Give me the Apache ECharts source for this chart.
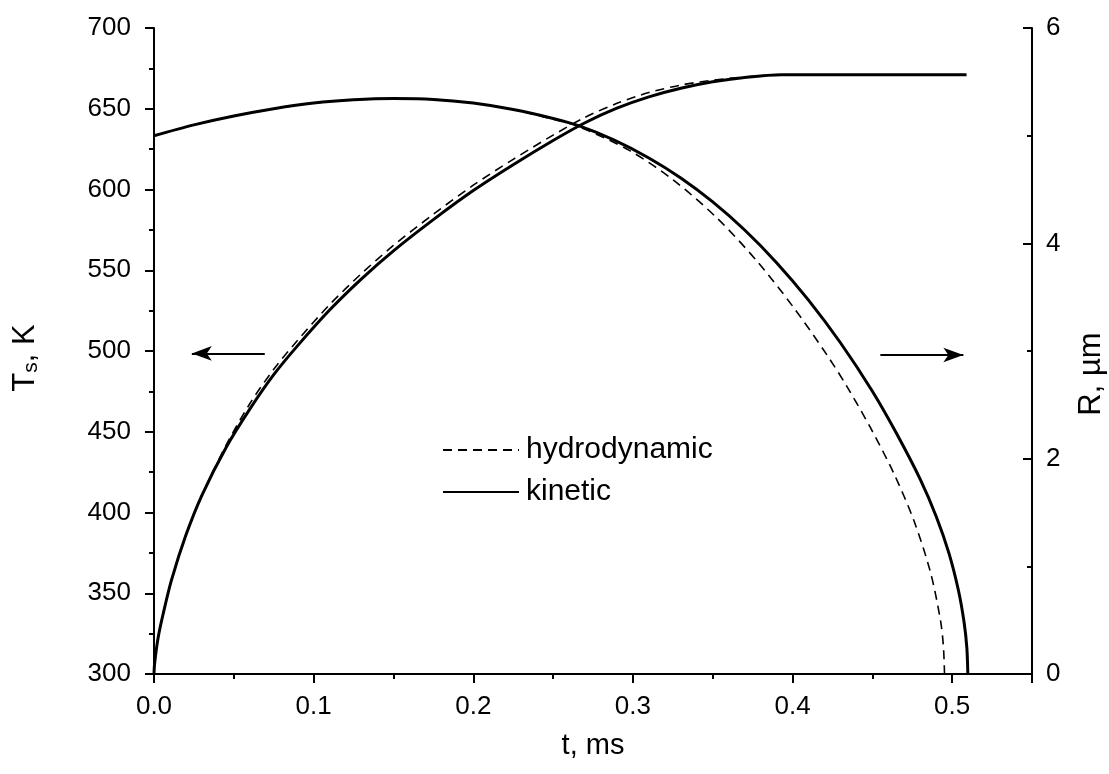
<!DOCTYPE html>
<html>
<head>
<meta charset="utf-8">
<script src="https://cdn.jsdelivr.net/npm/echarts@6/dist/echarts.min.js"></script>
<style>
html,body{margin:0;padding:0;background:#fff;}
#chart{width:1109px;height:774px;}
</style>
</head>
<body>
<div id="chart"></div>
<script>
// ---- data ----
// Surface temperature T_s (K), kinetic model
const tTkin = [0, 0.025, 0.05, 0.075, 0.1, 0.125, 0.15, 0.175, 0.2, 0.225, 0.25, 0.266, 0.288, 0.31, 0.33, 0.35, 0.37, 0.39, 0.41, 0.43, 0.45, 0.465, 0.48, 0.49, 0.498, 0.504, 0.5075, 0.5092, 0.5098];
const TKin  = [633.3, 640, 645.5, 650, 653.5, 655.5, 656.3, 655.8, 653.5, 649.5, 644, 639.5, 630.7, 619.5, 607.1, 592.3, 574.9, 554.7, 531.5, 505.1, 475.1, 449.2, 420.5, 397.5, 374.7, 351.4, 331.7, 316, 300];
// Surface temperature T_s (K), hydrodynamic model
const tThyd = [0, 0.025, 0.05, 0.075, 0.1, 0.125, 0.15, 0.175, 0.2, 0.225, 0.25, 0.266, 0.2983, 0.3254, 0.3526, 0.3777, 0.4007, 0.4216, 0.4342, 0.4488, 0.4634, 0.4759, 0.4864, 0.4927, 0.4945, 0.4952];
const THyd  = [633.3, 640, 645.5, 650, 653.5, 655.5, 656.3, 655.8, 653.5, 649.5, 643.5, 639, 623.9, 605.8, 582.4, 555.7, 526.9, 497.5, 477.8, 452.5, 424.3, 395.3, 363, 333, 317.2, 300];
// Droplet radius R (um), kinetic model
const tRkin = [0, 0.0004, 0.0025, 0.0056, 0.0109, 0.02, 0.03, 0.045, 0.06, 0.075, 0.09, 0.11, 0.13, 0.15, 0.175, 0.2, 0.225, 0.25, 0.27, 0.29, 0.31, 0.33, 0.35, 0.37, 0.393, 0.509];
const RKin  = [0, 0.1, 0.33, 0.55, 0.87, 1.29, 1.66, 2.1, 2.46, 2.78, 3.05, 3.38, 3.67, 3.93, 4.22, 4.49, 4.73, 4.955, 5.12, 5.255, 5.36, 5.44, 5.5, 5.54, 5.565, 5.565];
// Droplet radius R (um), hydrodynamic model
const tRhyd = [0, 0.0004, 0.0025, 0.0056, 0.0109, 0.02, 0.03, 0.045, 0.06, 0.075, 0.09, 0.11, 0.13, 0.15, 0.175, 0.2, 0.225, 0.25, 0.27, 0.29, 0.31, 0.33, 0.35, 0.37, 0.393, 0.495];
const RHyd  = [0, 0.1, 0.33, 0.55, 0.87, 1.29, 1.66, 2.12, 2.51, 2.83, 3.1, 3.43, 3.72, 3.98, 4.27, 4.54, 4.78, 5.005, 5.17, 5.3, 5.4, 5.47, 5.515, 5.545, 5.565, 5.565];
// Arrow annotations: [t, T] start and end
const arrowLeft  = [[0.0694, 498.5], [0.0237, 498.5]];
const arrowRight = [[0.455, 497.5], [0.507, 497.5]];
const xTickLabels = ['0.0', '0.1', '0.2', '0.3', '0.4', '0.5'];
const names = { kin: 'kinetic', hyd: 'hydrodynamic' };

const zip = (a, b) => a.map((v, i) => [v, b[i]]);
const FONT = 'Liberation Sans, Arial, sans-serif';

const chart = echarts.init(document.getElementById('chart'), null, { renderer: 'canvas' });
const axisCommon = {
  axisLine: { show: true, lineStyle: { color: '#000', width: 2 } },
  axisTick: { show: true, length: 9, lineStyle: { color: '#000', width: 2 } },
  minorTick: { show: true, splitNumber: 2, length: 5, lineStyle: { color: '#000', width: 2 } },
  splitLine: { show: false },
  minorSplitLine: { show: false },
  axisLabel: { color: '#000', fontFamily: FONT, fontSize: 26 },
  nameTextStyle: { color: '#000', fontFamily: FONT, fontSize: 29 }
};
const lineBase = { type: 'line', showSymbol: false, symbol: 'none', smooth: 0.3, silent: true, animation: false,
  itemStyle: { color: '#000' } };

chart.setOption({
  backgroundColor: '#fff',
  animation: false,
  grid: { left: 154, right: 77, top: 28, bottom: 100, containLabel: false, outerBoundsMode: 'none' },
  legend: {
    orient: 'vertical', left: 437, top: 430, itemWidth: 76, itemHeight: 14, itemGap: 12,
    data: [names.hyd, names.kin],
    itemStyle: { opacity: 0 },
    textStyle: { color: '#000', fontFamily: FONT, fontSize: 30, padding: [0, 0, 0, 2] },
    selectedMode: false
  },
  xAxis: Object.assign({}, axisCommon, {
    type: 'value', min: 0, max: 0.55, interval: 0.1,
    name: 't, ms', nameLocation: 'middle', nameGap: 57,
    axisLabel: Object.assign({}, axisCommon.axisLabel, { margin: 20, formatter: v => xTickLabels[Math.round(v * 10)] ?? '' })
  }),
  yAxis: [
    Object.assign({}, axisCommon, {
      type: 'value', min: 300, max: 700, interval: 50, position: 'left',
      name: '{a|T}{s|s}{a|, K}', nameLocation: 'middle', nameRotate: 90, nameGap: 112,
      nameTextStyle: { color: '#000', fontFamily: FONT, fontSize: 31, padding: [0, 14, 0, 0],
        rich: { a: { fontFamily: FONT, fontSize: 31, lineHeight: 33, color: '#000' },
                s: { fontFamily: FONT, fontSize: 21, lineHeight: 33, verticalAlign: 'bottom', padding: [11, 0, 0, 0], color: '#000' } } },
      axisLabel: Object.assign({}, axisCommon.axisLabel, { margin: 23 })
    }),
    Object.assign({}, axisCommon, {
      type: 'value', min: 0, max: 6, interval: 2, position: 'right',
      name: 'R, µm', nameLocation: 'middle', nameRotate: 90, nameGap: 44,
      axisTick: Object.assign({}, axisCommon.axisTick, { inside: true }),
      minorTick: Object.assign({}, axisCommon.minorTick, { inside: true }),
      axisLabel: Object.assign({}, axisCommon.axisLabel, { margin: 14 }),
      nameTextStyle: { color: '#000', fontFamily: FONT, fontSize: 31, padding: [0, 46, 0, 0] }
    })
  ],
  series: [
    Object.assign({}, lineBase, { name: names.hyd, yAxisIndex: 0, data: zip(tThyd, THyd), z: 2,
      lineStyle: { color: '#000', width: 1.6, type: [9, 6] } }),
    Object.assign({}, lineBase, { name: names.hyd, yAxisIndex: 1, data: zip(tRhyd, RHyd), z: 2,
      lineStyle: { color: '#000', width: 1.6, type: [9, 6] } }),
    Object.assign({}, lineBase, { name: names.kin, yAxisIndex: 0, data: zip(tTkin, TKin), z: 3,
      lineStyle: { color: '#000', width: 3 },
      markLine: { silent: true, symbol: ['none', 'arrow'], symbolSize: [11, 20], animation: false,
        label: { show: false }, lineStyle: { color: '#000', width: 2, type: 'solid' },
        data: [
          [{ coord: arrowLeft[0] }, { coord: arrowLeft[1] }],
          [{ coord: arrowRight[0] }, { coord: arrowRight[1] }]
        ] } }),
    Object.assign({}, lineBase, { name: names.kin, yAxisIndex: 1, data: zip(tRkin, RKin), z: 3,
      lineStyle: { color: '#000', width: 3 } })
  ]
});
</script>
</body>
</html>
